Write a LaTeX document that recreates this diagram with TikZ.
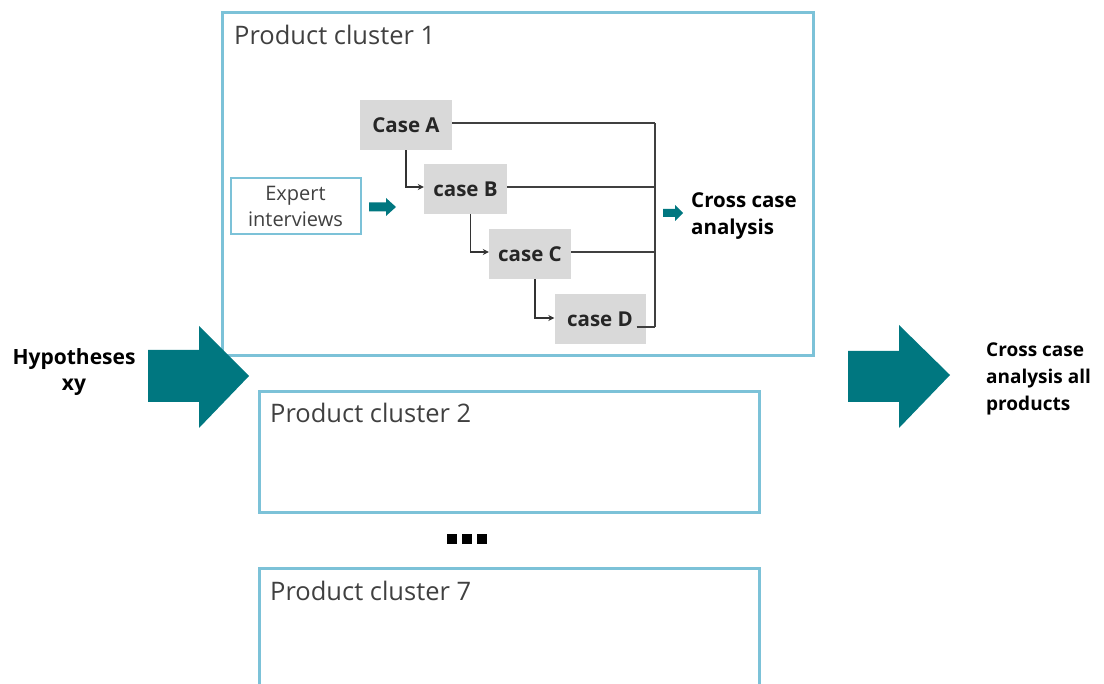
\documentclass[tikz,border=0pt]{standalone}
\usepackage{fontspec}
\setmainfont{Open Sans}
\usetikzlibrary{arrows.meta,calc}
\definecolor{arrowteal}{HTML}{007780}
\definecolor{frameblue}{HTML}{7CC2D8}
\definecolor{casegray}{HTML}{D9D9D9}
\definecolor{titlegray}{HTML}{404040}
\begin{document}
\begin{tikzpicture}[x=1pt,y=-1pt,
  cluster/.style={draw=frameblue,line width=2.8pt,anchor=north west,inner sep=0pt},
  clustertitle/.style={anchor=base west,text=titlegray,font=\fontsize{25.5}{30}\selectfont,inner sep=0pt},
  casebox/.style={fill=casegray,minimum height=50pt,inner sep=0pt,font=\bfseries\fontsize{20.5}{24}\selectfont,text=black!85},
  conn/.style={draw=black!80,line width=1.2pt,-{Stealth[length=6pt,width=6pt]}},
  busline/.style={draw=black!75,line width=1.2pt},
  boldlabel/.style={font=\bfseries\fontsize{20.5}{27.5}\selectfont,align=left,inner sep=0pt},
]
\useasboundingbox (0,0) rectangle (1104,684);

% product cluster frames
\node[cluster,minimum width=591pt,minimum height=343pt] (pc1) at (221,11) {};
\node[clustertitle] (pc1t) at (234,45) {Product cluster 1};
\node[cluster,minimum width=500pt,minimum height=121pt] (pc2) at (258,390) {};
\node[clustertitle] (pc2t) at (270,423) {Product cluster 2};
\node[cluster,minimum width=500pt,minimum height=140pt] (pc7) at (258,567) {};
\node[clustertitle] (pc7t) at (270,600) {Product cluster 7};

% ellipsis between clusters
\foreach \x in {452,467,482}
  \fill (\x-5,534) rectangle (\x+5,544);

% cases
\node[casebox,minimum width=92pt] (A) at (406,125) {Case A};
\node[casebox,minimum width=83pt] (B) at (465.5,189) {case B};
\node[casebox,minimum width=82pt] (C) at (530,254) {case C};
\node[casebox,minimum width=91pt] (D) at (600,319) {case D};

% expert interviews
\node[draw=frameblue,line width=2pt,minimum width=130pt,minimum height=56pt,inner sep=0pt,
      align=center,text=titlegray,font=\fontsize{20}{26}\selectfont] (E) at (295.5,206) {Expert\\interviews};

% case chain
\draw[conn] (A.south) |- ($(B.west)+(0,-2)$);
\draw[conn] ($(B.south)+(5,0)$) |- ($(C.west)+(0,-2)$);
\draw[conn] ($(C.south)+(5,0)$) |- ($(D.west)+(0,-1)$);

% collecting bus
\coordinate (busT) at (655,123);
\coordinate (busB) at (655,327);
\coordinate (aOut) at ($(A.east)+(0,-2)$);
\coordinate (bOut) at ($(B.east)+(0,-2)$);
\coordinate (cOut) at ($(C.east)+(0,-2)$);
\coordinate (dOut) at ($(D.east)+(-9,8)$);
\draw[busline] (aOut) -- (aOut -| busT);
\draw[busline] (bOut) -- (bOut -| busT);
\draw[busline] (cOut) -- (cOut -| busT);
\draw[busline] (dOut) -- (busB);
\draw[busline] (busT) -- (busB);

% small teal arrows
\fill[arrowteal] (369,202.5) -- (386,202.5) -- (386,198) -- (396,207) -- (386,216) -- (386,211.5) -- (369,211.5) -- cycle;
\fill[arrowteal] (663,209) -- (675,209) -- (675,205) -- (683,213) -- (675,221) -- (675,217) -- (663,217) -- cycle;

\node[boldlabel,anchor=north west] (cca) at (691,192) {Cross case\\analysis};

% big arrows
\fill[arrowteal] (148,350) -- (199,350) -- (199,326) -- (249,376) -- (199,428) -- (199,402) -- (148,402) -- cycle;
\fill[arrowteal] (848,351) -- (899,351) -- (899,325) -- (950,375) -- (899,428) -- (899,402) -- (848,402) -- cycle;

\node[font=\bfseries\fontsize{21}{26}\selectfont,align=center,inner sep=0pt] (hyp) at (74,372) {Hypotheses\\xy};
\node[font=\bfseries\fontsize{19}{27}\selectfont,align=left,inner sep=0pt,anchor=west] (all) at (986,379) {Cross case\\analysis all\\products};
\end{tikzpicture}
\end{document}
